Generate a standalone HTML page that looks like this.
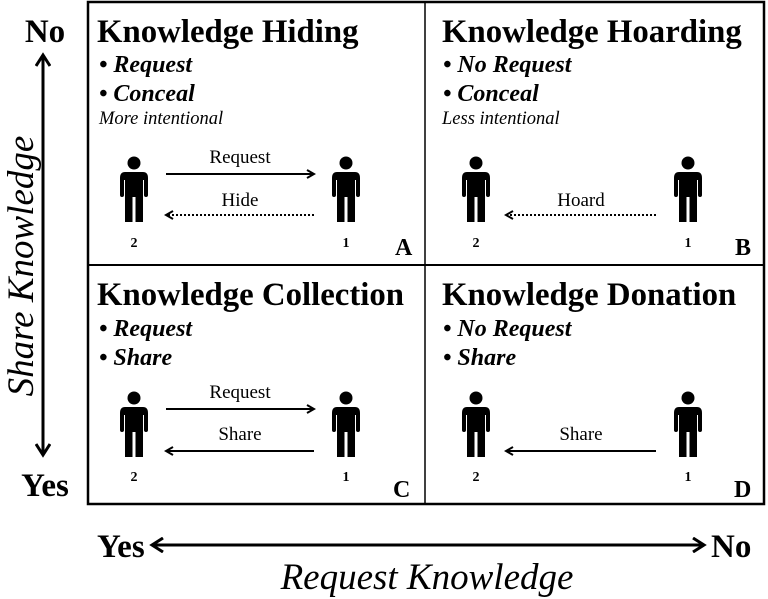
<!DOCTYPE html>
<html><head><meta charset="utf-8"><style>
html,body{margin:0;padding:0;background:#fff;}
svg{display:block;}
.t{font-family:"Liberation Serif",serif;font-weight:bold;font-size:32.8px;}
.b{font-family:"Liberation Serif",serif;font-weight:bold;font-style:italic;font-size:24px;}
.i{font-family:"Liberation Serif",serif;font-style:italic;font-size:18.5px;}
.s{font-family:"Liberation Serif",serif;font-size:19px;}
.n{font-family:"Liberation Serif",serif;font-weight:bold;font-size:14px;}
.L{font-family:"Liberation Serif",serif;font-weight:bold;font-size:24px;}
.ax{font-family:"Liberation Serif",serif;font-weight:bold;font-size:33px;}
.al{font-family:"Liberation Serif",serif;font-style:italic;font-size:37px;}
</style></head><body>
<svg width="768" height="599" viewBox="0 0 768 599" xmlns="http://www.w3.org/2000/svg">
<defs>
<g id="p" fill="#000">
<circle cx="0" cy="8" r="6.5"/>
<path d="M-9,17 Q-14,17 -14,23 L-14,40 Q-14,42 -12,42 Q-10,42 -10,40 L-10,25 L-9,25 L-9,67 L-1.5,67 L-1.5,42 L1.5,42 L1.5,67 L9,67 L9,25 L10,25 L10,40 Q10,42 12,42 Q14,42 14,40 L14,23 Q14,17 9,17 Z"/>
</g>
<marker id="ah" markerWidth="10" markerHeight="10" refX="8" refY="5" orient="auto" markerUnits="userSpaceOnUse">
<path d="M1,1 L8,5 L1,9" fill="none" stroke="#000" stroke-width="2"/>
</marker>
<marker id="big" markerWidth="16" markerHeight="16" refX="13" refY="8" orient="auto-start-reverse" markerUnits="userSpaceOnUse">
<path d="M2,1 L13,8 L2,15" fill="none" stroke="#000" stroke-width="3"/>
</marker>
</defs>

<rect x="88" y="2" width="676" height="502" fill="none" stroke="#000" stroke-width="2.5"/>
<line x1="425" y1="2" x2="425" y2="504" stroke="#000" stroke-width="1.5"/>
<line x1="88" y1="265" x2="764" y2="265" stroke="#000" stroke-width="2"/>

<!-- A -->
<text class="t" x="97" y="42">Knowledge Hiding</text>
<text class="b" x="99" y="72">• Request</text>
<text class="b" x="99" y="101">• Conceal</text>
<text class="i" x="99" y="124">More intentional</text>
<use href="#p" x="134" y="155"/>
<use href="#p" x="346" y="155"/>
<text class="s" x="240" y="163" text-anchor="middle">Request</text>
<line x1="166" y1="174" x2="314" y2="174" stroke="#000" stroke-width="2" marker-end="url(#ah)"/>
<text class="s" x="240" y="206" text-anchor="middle">Hide</text>
<line x1="314" y1="215" x2="166" y2="215" stroke="#000" stroke-width="2" stroke-dasharray="2,2" marker-end="url(#ah)"/>
<text class="n" x="134" y="247" text-anchor="middle">2</text>
<text class="n" x="346" y="247" text-anchor="middle">1</text>
<text class="L" x="395" y="255">A</text>

<!-- B -->
<text class="t" x="442" y="42">Knowledge Hoarding</text>
<text class="b" x="443" y="72">• No Request</text>
<text class="b" x="443" y="101">• Conceal</text>
<text class="i" x="442" y="124">Less intentional</text>
<use href="#p" x="476" y="155"/>
<use href="#p" x="688" y="155"/>
<text class="s" x="581" y="206" text-anchor="middle">Hoard</text>
<line x1="656" y1="215" x2="506" y2="215" stroke="#000" stroke-width="2" stroke-dasharray="2,2" marker-end="url(#ah)"/>
<text class="n" x="476" y="247" text-anchor="middle">2</text>
<text class="n" x="688" y="247" text-anchor="middle">1</text>
<text class="L" x="735" y="255">B</text>

<!-- C -->
<text class="t" x="97" y="305">Knowledge Collection</text>
<text class="b" x="99" y="336">• Request</text>
<text class="b" x="99" y="365">• Share</text>
<use href="#p" x="134" y="390"/>
<use href="#p" x="346" y="390"/>
<text class="s" x="240" y="398" text-anchor="middle">Request</text>
<line x1="166" y1="409" x2="314" y2="409" stroke="#000" stroke-width="2" marker-end="url(#ah)"/>
<text class="s" x="240" y="440" text-anchor="middle">Share</text>
<line x1="314" y1="451" x2="166" y2="451" stroke="#000" stroke-width="2" marker-end="url(#ah)"/>
<text class="n" x="134" y="481" text-anchor="middle">2</text>
<text class="n" x="346" y="481" text-anchor="middle">1</text>
<text class="L" x="393" y="497">C</text>

<!-- D -->
<text class="t" x="442" y="305">Knowledge Donation</text>
<text class="b" x="443" y="336">• No Request</text>
<text class="b" x="443" y="365">• Share</text>
<use href="#p" x="476" y="390"/>
<use href="#p" x="688" y="390"/>
<text class="s" x="581" y="440" text-anchor="middle">Share</text>
<line x1="656" y1="451" x2="506" y2="451" stroke="#000" stroke-width="2" marker-end="url(#ah)"/>
<text class="n" x="476" y="481" text-anchor="middle">2</text>
<text class="n" x="688" y="481" text-anchor="middle">1</text>
<text class="L" x="734" y="497">D</text>

<!-- vertical axis -->
<text class="ax" x="45" y="42" text-anchor="middle">No</text>
<text class="ax" x="45" y="496" text-anchor="middle">Yes</text>
<line x1="43" y1="55" x2="43" y2="455" stroke="#000" stroke-width="3" marker-start="url(#big)" marker-end="url(#big)"/>
<text class="al" transform="translate(33,266) rotate(-90)" text-anchor="middle">Share Knowledge</text>

<!-- horizontal axis -->
<text class="ax" x="97" y="557">Yes</text>
<text class="ax" x="711" y="557">No</text>
<line x1="152" y1="545" x2="704" y2="545" stroke="#000" stroke-width="3" marker-start="url(#big)" marker-end="url(#big)"/>
<text class="al" x="427" y="589" text-anchor="middle">Request Knowledge</text>
</svg>
</body></html>
